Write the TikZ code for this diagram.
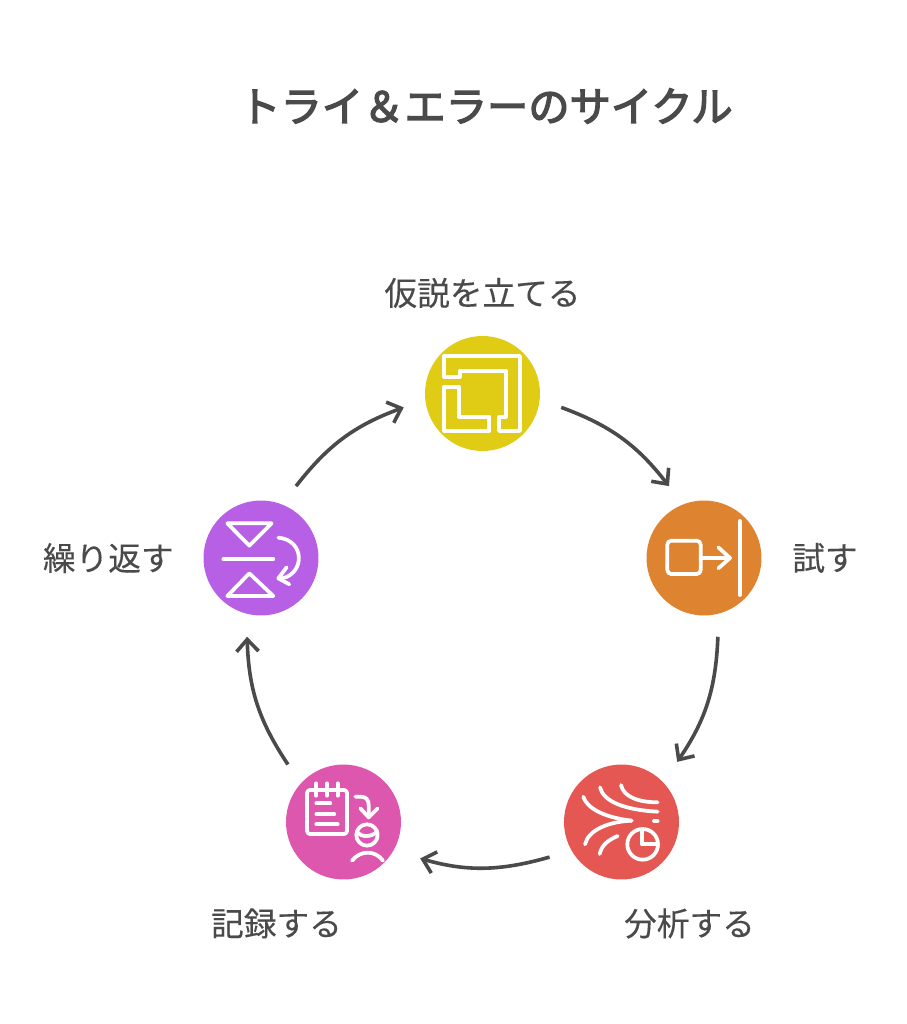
\documentclass[tikz,border=0pt]{standalone}
\usepackage{fontspec}
\setmainfont{Noto Sans CJK JP}
\newfontfamily\labelfont[FakeBold=0.2]{Noto Sans CJK JP}
\newfontfamily\titlefont[FakeBold=3.2]{Noto Sans CJK JP}
\usetikzlibrary{arrows.meta}
\usetikzlibrary{positioning}
\definecolor{inktext}{HTML}{4A4A4A}
\definecolor{kasetsucol}{HTML}{E0CB15}
\definecolor{tamesucol}{HTML}{DE8431}
\definecolor{bunsekicol}{HTML}{E55753}
\definecolor{kirokucol}{HTML}{DD57AF}
\definecolor{kurikaesucol}{HTML}{B760E6}

\begin{document}
\begin{tikzpicture}[
x=0.02cm, y=-0.02cm,
roundnode/.style={circle, inner sep=0pt, minimum size=2.3cm, outer sep=0.45cm},
labelnode/.style={inner sep=0pt, text=inktext, font=\labelfont\fontsize{18.6}{22}\selectfont},
cyclearrow/.style={draw=inktext, line width=0.072cm, -{Straight Barb[length=0.24cm, width=0.44cm, line width=0.072cm]}, bend left=16},
iconline/.style={draw=white, line width=0.075cm, line cap=round, line join=round},
iconscope/.style={scale=0.3333},
]
\useasboundingbox (0,0) rectangle (906,1024);

%Nodes
\node[inner sep=0pt, text=inktext, font=\titlefont\fontsize{23.5}{28}\selectfont] (title_node) at (486,106) {トライ＆エラーのサイクル};

\node[roundnode, fill=kasetsucol]   (kasetsu_node)   at (482.5,393.5) {};
\node[roundnode, fill=tamesucol]    (tamesu_node)    at (704,558) {};
\node[roundnode, fill=bunsekicol]   (bunseki_node)   at (621.5,822) {};
\node[roundnode, fill=kirokucol]    (kiroku_node)    at (343.5,822) {};
\node[roundnode, fill=kurikaesucol] (kurikaesu_node) at (261,558) {};

\node[labelnode] (kasetsu_label)   [above=0.1cm of kasetsu_node] {仮説を立てる};
\node[labelnode] (tamesu_label)    [right=0.16cm of tamesu_node] {試す};
\node[labelnode] (bunseki_label)   [below=0.12cm of bunseki_node, xshift=1.36cm] {分析する};
\node[labelnode] (kiroku_label)    [below=0.12cm of kiroku_node, xshift=-1.34cm] {記録する};
\node[labelnode] (kurikaesu_label) [left=0.14cm of kurikaesu_node] {繰り返す};

%Lines
\draw[cyclearrow] (kasetsu_node.-10) to (tamesu_node.116);
\draw[cyclearrow, shorten >=0.04cm] (tamesu_node.-80) to (bunseki_node.47);
\draw[cyclearrow, shorten >=0.1cm] (bunseki_node.206) to (kiroku_node.-26);
\draw[cyclearrow] (kiroku_node.134) to (kurikaesu_node.260);
\draw[cyclearrow] (kurikaesu_node.64) to (kasetsu_node.190);

%Icons
\begin{scope}[shift={(410,325)}, iconscope]
\draw[iconline] (103,93) -- (330,93) -- (330,318) -- (267,318) -- (267,275) -- (288,275) -- (288,137) -- (150,137) -- (150,155) -- (103,155) -- cycle;
\draw[iconline] (103,185) -- (147,185) -- (147,275) -- (238,275) -- (238,318) -- (103,318) -- cycle;
\end{scope}

\begin{scope}[shift={(635,490)}, iconscope]
\draw[iconline, rounded corners=0.08cm] (97,152) rectangle (197,252);
\draw[iconline] (197,204) -- (283,204);
\draw[iconline] (250,172) -- (285,204) -- (250,235);
\draw[iconline] (314,93) -- (314,315);
\end{scope}

\begin{scope}[shift={(555,755)}, iconscope]
\draw[iconline] (85,125) .. controls (100,170) and (170,190) .. (230,197);
\draw[iconline] (230,197) .. controls (160,200) and (100,225) .. (90,268);
\draw[iconline] (135,97) .. controls (145,140) and (210,165) .. (308,170);
\draw[iconline] (198,90) .. controls (205,125) and (250,142) .. (308,142);
\draw[iconline] (297,198) -- (308,198);
\draw[iconline] (188,243) .. controls (160,255) and (140,270) .. (134,297);
\draw[iconline] (263,268) circle (46);
\draw[iconline] (260,226) -- (260,268) -- (306,268);
\end{scope}

\begin{scope}[shift={(277,755)}, iconscope]
\draw[iconline, rounded corners=0.06cm] (90,105) rectangle (210,237);
\foreach \ringx in {118,150,182}
  \draw[iconline] (\ringx,85) -- (\ringx,122);
\draw[iconline] (118,145) -- (160,145);
\draw[iconline] (118,178) -- (172,178);
\draw[iconline] (118,208) -- (182,208);
\draw[iconline] (235,125) -- (250,125) .. controls (268,125) and (275,135) .. (275,150) -- (275,187);
\draw[iconline] (250,160) -- (275,187) -- (302,160);
\draw[iconline] (270,240) circle (32);
\draw[iconline] (240,230) .. controls (255,250) and (285,245) .. (300,230);
\draw[iconline] (225,317) .. controls (250,285) and (295,285) .. (318,317);
\end{scope}

\begin{scope}[shift={(195,490)}, iconscope]
\draw[iconline] (97,100) -- (230,100) -- (163,167) -- cycle;
\draw[iconline] (85,208) -- (235,208);
\draw[iconline] (163,250) -- (235,318) -- (97,318) -- cycle;
\draw[iconline] (250,143) .. controls (330,150) and (330,250) .. (262,265);
\draw[iconline] (275,232) -- (250,265) -- (283,283);
\end{scope}

\end{tikzpicture}
\end{document}
